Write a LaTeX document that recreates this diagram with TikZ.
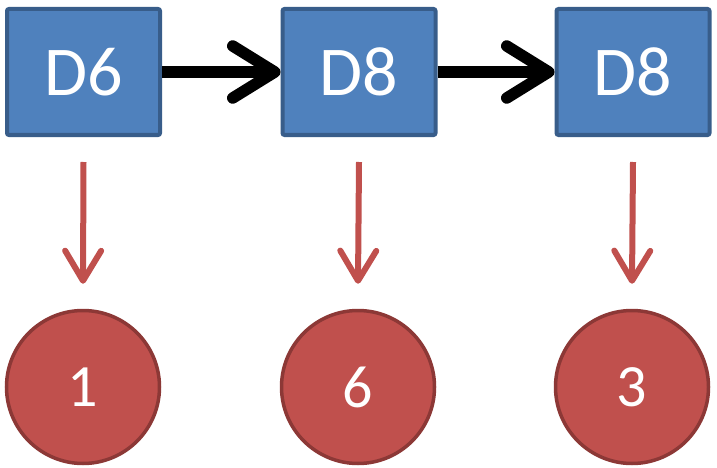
\documentclass[tikz,border=0pt]{standalone}
\usepackage{fontspec}
\setmainfont{Carlito}
\usetikzlibrary{arrows.meta}
\definecolor{boxfill}{HTML}{4F81BD}
\definecolor{boxline}{HTML}{385D8A}
\definecolor{dotfill}{HTML}{C0504D}
\definecolor{dotline}{HTML}{8C3836}
\begin{document}
\begin{tikzpicture}[x=1pt,y=-1pt,
  diebox/.style={draw=boxline, fill=boxfill, line width=4pt, rounded corners=2pt,
    minimum width=153pt, minimum height=126pt, inner sep=0pt, text=white,
    font=\fontsize{70}{70}\selectfont},
  rollball/.style={circle, draw=dotline, fill=dotfill, line width=3.5pt, minimum size=153pt,
    inner sep=0pt, text=white, font=\fontsize{60}{60}\selectfont},
  chain/.style={line width=11.5pt, black, -{Straight Barb[length=42pt,width=52pt,round]}},
  roll/.style={line width=6pt, dotfill, -{Straight Barb[length=30pt,width=36pt,round]}}]
  \useasboundingbox (0,0) rectangle (717,468);
  % dice in sequence
  \node[diebox] (d1) at (83.5,72) {D6};
  \node[diebox] (d2) at (359,72) {D8};
  \node[diebox] (d3) at (633,72) {D8};
  % rolled values
  \node[rollball] (r1) at (83,387) {1};
  \node[rollball] (r2) at (358,387) {6};
  \node[rollball] (r3) at (632,387) {3};
  % chain between dice
  \draw[chain] (d1.east) -- (d2.west);
  \draw[chain] (d2.east) -- (d3.west);
  % each die to its result
  \draw[roll] ([yshift=-25pt]d1.south) -- ([yshift=25pt]r1.north);
  \draw[roll] ([yshift=-25pt]d2.south) -- ([yshift=25pt]r2.north);
  \draw[roll] ([yshift=-25pt]d3.south) -- ([yshift=25pt]r3.north);
\end{tikzpicture}
\end{document}
